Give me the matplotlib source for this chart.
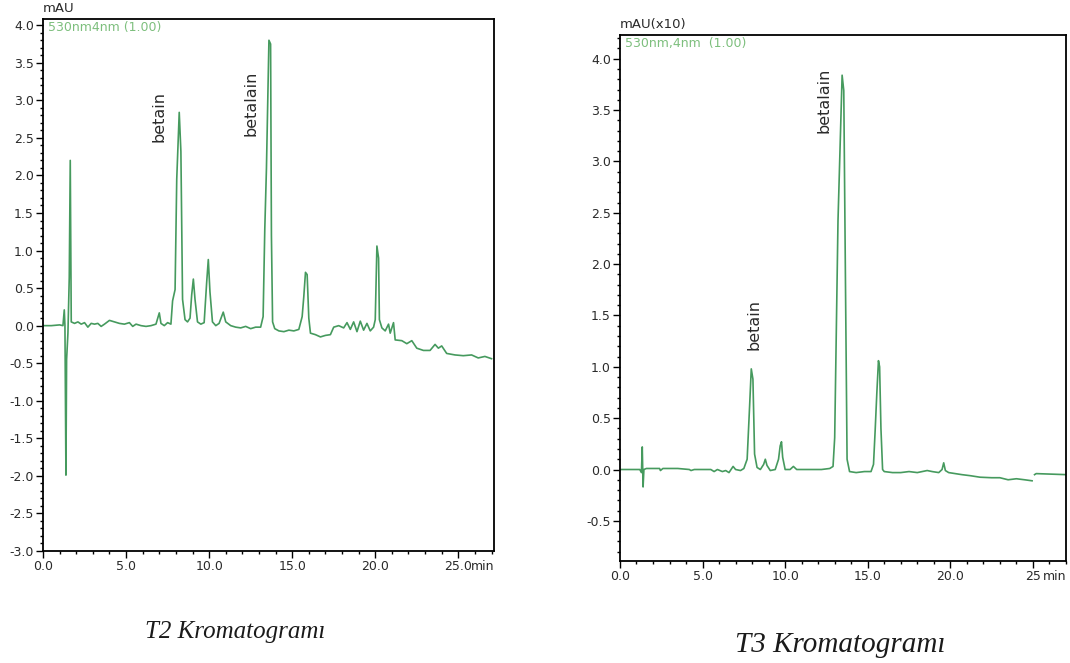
import numpy as np
import matplotlib
matplotlib.use("Agg")
import matplotlib.pyplot as plt
from matplotlib.ticker import MultipleLocator, FormatStrFormatter
from matplotlib.transforms import offset_copy

plt.rcParams['axes.unicode_minus'] = False
plt.rcParams['font.family'] = ['DejaVu Sans']

# ---------------- data ----------------
t2_time = [0.0, 0.5, 1.0, 1.2, 1.28, 1.32, 1.38, 1.42, 1.5, 1.58, 1.64, 1.7, 1.9, 2.1, 2.3,
           2.5, 2.7, 2.9, 3.1, 3.3, 3.5, 3.7, 4.0, 4.3, 4.6, 4.9, 5.2, 5.4, 5.6, 5.9, 6.2,
           6.5, 6.8, 7.0, 7.1, 7.3, 7.5, 7.7, 7.8, 7.95, 8.05, 8.2, 8.3, 8.4, 8.55, 8.7,
           8.85, 8.95, 9.05, 9.15, 9.3, 9.5, 9.7, 9.85, 9.95, 10.05, 10.2, 10.4, 10.6,
           10.85, 11.0, 11.3, 11.6, 11.9, 12.2, 12.5, 12.8, 13.1, 13.25, 13.35, 13.45,
           13.6, 13.7, 13.75, 13.82, 13.95, 14.2, 14.5, 14.8, 15.1, 15.4, 15.6, 15.7,
           15.8, 15.9, 16.0, 16.1, 16.4, 16.7, 17.0, 17.3, 17.5, 17.8, 18.1, 18.3, 18.5,
           18.7, 18.9, 19.1, 19.3, 19.5, 19.7, 19.9, 20.0, 20.1, 20.2, 20.25, 20.4, 20.6,
           20.8, 20.9, 21.1, 21.2, 21.6, 21.9, 22.2, 22.5, 22.9, 23.3, 23.6, 23.8, 24.0,
           24.3, 24.8, 25.3, 25.8, 26.2, 26.6, 27.0]
t2_signal = [0.0, 0.0, 0.01, 0.0, 0.21, 0.0, -1.99, -0.45, -0.1, 0.64, 2.2, 0.05, 0.03, 0.05, 0.02,
             0.04, -0.02, 0.03, 0.02, 0.03, -0.01, 0.02, 0.07, 0.05, 0.03, 0.02, 0.04, -0.01, 0.02, 0.0, -0.01,
             0.0, 0.02, 0.17, 0.03, 0.0, 0.04, 0.02, 0.33, 0.48, 1.95, 2.84, 2.32, 0.35, 0.08, 0.05,
             0.1, 0.41, 0.62, 0.35, 0.05, 0.02, 0.04, 0.57, 0.88, 0.45, 0.05, 0.0, 0.03,
             0.18, 0.05, 0.0, -0.02, -0.03, -0.01, -0.04, -0.02, -0.02, 0.12, 1.28, 2.09,
             3.8, 3.75, 1.2, 0.05, -0.04, -0.07, -0.08, -0.06, -0.07, -0.05, 0.12, 0.39,
             0.71, 0.68, 0.1, -0.1, -0.12, -0.15, -0.13, -0.12, -0.02, 0.0, -0.03, 0.04, -0.05,
             0.05, -0.08, 0.06, -0.06, 0.03, -0.07, -0.02, 0.08, 1.06, 0.9, 0.08, -0.03, -0.07,
             0.02, -0.1, 0.04, -0.19, -0.2, -0.24, -0.2, -0.3, -0.33, -0.33, -0.25, -0.3, -0.27,
             -0.37, -0.39, -0.4, -0.39, -0.43, -0.41, -0.44]

t3_time = [0.0, 0.6, 1.2, 1.3, 1.35, 1.4, 1.45, 1.6, 2.4, 2.45, 2.6, 3.5, 4.2, 4.3, 4.5, 5.5,
           5.7, 5.9, 6.2, 6.4, 6.6, 6.85, 7.0, 7.3, 7.5, 7.7, 7.85, 7.95, 8.05, 8.15, 8.3,
           8.5, 8.7, 8.8, 8.9, 9.1, 9.4, 9.6, 9.7, 9.78, 9.85, 10.0, 10.3, 10.5, 10.7, 11.5,
           12.2, 12.7, 12.9, 13.0, 13.2, 13.45, 13.55, 13.65, 13.75, 13.9, 14.3, 14.8, 15.2,
           15.35, 15.45, 15.55, 15.65, 15.72, 15.8, 15.9, 16.0, 16.5, 17.0, 17.5, 18.0, 18.6,
           18.9, 19.3, 19.5, 19.6, 19.7, 19.9, 20.3, 20.7, 21.2, 21.8, 22.5, 23.0, 23.5, 24.0,
           24.5, 24.95, 25.0, 25.1, 25.2, 27.0]
t3_signal = [0.0, 0.0, 0.0, -0.03, 0.22, -0.17, 0.0, 0.01, 0.01, -0.01, 0.01, 0.01, 0.0, -0.01, 0.0, 0.0,
             -0.02, 0.0, -0.02, -0.01, -0.03, 0.03, 0.0, -0.01, 0.01, 0.1, 0.62, 0.98, 0.88, 0.15, 0.02,
             0.0, 0.05, 0.1, 0.04, -0.01, 0.0, 0.1, 0.23, 0.27, 0.12, 0.0, 0.0, 0.03, 0.0, 0.0,
             0.0, 0.01, 0.03, 0.31, 2.42, 3.84, 3.69, 1.87, 0.1, -0.02, -0.03, -0.02, -0.02,
             0.05, 0.38, 0.74, 1.06, 1.0, 0.4, 0.0, -0.02, -0.03, -0.03, -0.02, -0.03, -0.01,
             -0.02, -0.03, 0.0, 0.065, -0.01, -0.03, -0.04, -0.05, -0.06, -0.075, -0.08, -0.08, -0.1, -0.09,
             -0.1, -0.11, float('nan'), -0.05, -0.04, -0.05]

t2_peak_labels = ["betain", "betalain"]
t2_label_pos = [(7.0, 2.78), (12.55, 2.96)]
t3_peak_labels = ["betain", "betalain"]
t3_label_pos = [(8.1, 1.41), (12.35, 3.6)]

x_ticks = [0.0, 5.0, 10.0, 15.0, 20.0, 25.0]
t2_xticklabels = ["0.0", "5.0", "10.0", "15.0", "20.0", "25.0"]
t3_xticklabels = ["0.0", "5.0", "10.0", "15.0", "20.0", "25"]

captions = ["T2 Kromatogramı", "T3 Kromatogramı"]
y_units = ["mAU", "mAU(x10)"]
channel_labels = ["530nm4nm (1.00)", "530nm,4nm  (1.00)"]

# ---------------- style ----------------
trace_color = '#469a5e'
chan_color = '#7dbf7d'
text_color = '#2a2a2a'

fig = plt.figure(figsize=(10.7, 6.63), dpi=100)
fig.patch.set_facecolor('white')

ax1 = fig.add_axes([0.0402, 0.169, 0.4215, 0.802])
ax2 = fig.add_axes([0.5794, 0.154, 0.4168, 0.793])


def style_axis(ax, ylim, xlim, xticklabels):
    ax.set_xlim(*xlim)
    ax.set_ylim(*ylim)
    ax.yaxis.set_major_locator(MultipleLocator(0.5))
    ax.yaxis.set_minor_locator(MultipleLocator(0.1))
    ax.yaxis.set_major_formatter(FormatStrFormatter('%.1f'))
    ax.set_xticks(x_ticks)
    ax.set_xticklabels(xticklabels)
    ax.xaxis.set_minor_locator(MultipleLocator(1.0))
    ax.tick_params(which='major', direction='out', length=5, width=1.0,
                   labelsize=9, colors='black', labelcolor=text_color, pad=1.5)
    ax.tick_params(which='minor', direction='out', length=2.5, width=1.0, colors='black')
    for s in ax.spines.values():
        s.set_linewidth(1.3)
        s.set_color('black')


ax1.plot(t2_time, t2_signal, color=trace_color, lw=1.2)
style_axis(ax1, (-3.0, 4.08), (0.0, 27.15), t2_xticklabels)
ax2.plot(t3_time, t3_signal, color=trace_color, lw=1.2)
style_axis(ax2, (-0.89, 4.23), (0.0, 27.0), t3_xticklabels)

for ax, labels, pos in [(ax1, t2_peak_labels, t2_label_pos), (ax2, t3_peak_labels, t3_label_pos)]:
    for lab, (x, y) in zip(labels, pos):
        ax.text(x, y, lab, rotation=90, ha='center', va='center', fontsize=11.5, color=text_color)

for ax, unit, chan in [(ax1, y_units[0], channel_labels[0]), (ax2, y_units[1], channel_labels[1])]:
    ax.text(0.0, 1.008, unit, transform=ax.transAxes, ha='left', va='bottom', fontsize=9.5, color=text_color)
    ax.text(0.012, 0.997, chan, transform=ax.transAxes, ha='left', va='top', fontsize=9, color=chan_color)

# "min" unit after the last tick label, on the tick-label baseline
for ax in (ax1, ax2):
    tr = offset_copy(ax.transAxes, fig=fig, x=0, y=-6.5, units='points')
    ax.text(1.0, 0.0, "min", transform=tr, ha='right', va='top', fontsize=9, color=text_color)

fig.text(235 / 1070, 1 - 632 / 663, captions[0], ha='center', va='center',
         fontsize=18, style='italic', family='Liberation Serif', color='#1a1a1a')
fig.text(840 / 1070, 1 - 645 / 663, captions[1], ha='center', va='center',
         fontsize=21, style='italic', family='Liberation Serif', color='#1a1a1a')

fig.savefig('out.png', dpi=100, facecolor='white')
